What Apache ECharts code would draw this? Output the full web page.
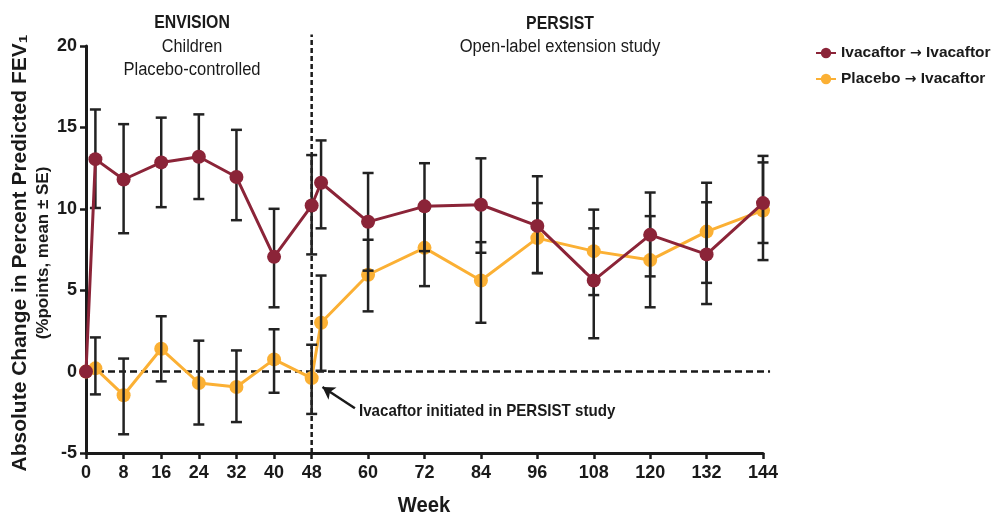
<!DOCTYPE html>
<html>
<head>
<meta charset="utf-8">
<script src="https://cdn.jsdelivr.net/npm/echarts@6/dist/echarts.min.js"></script>
<style>html,body{margin:0;padding:0;background:#fff}#c{width:1002px;height:515px}</style>
</head>
<body>
<div id="c"></div>
<script>
// ---- data ----
const weeks = [0, 2, 8, 16, 24, 32, 40, 48, 50, 60, 72, 84, 96, 108, 120, 132, 144];
const ivaMean  = [0, 13.05, 11.8, 12.85, 13.2, 11.95, 7.05, 10.2, 11.6, 9.2, 10.15, 10.25, 8.95, 5.6, 8.4, 7.2, 10.35];
const ivaHigh  = [null, 16.1, 15.2, 15.6, 15.8, 14.85, 10.0, 13.3, 14.2, 12.2, 12.8, 13.1, 12.0, 8.8, 11.0, 10.4, 13.25];
const ivaLow   = [null, 10.05, 8.5, 10.1, 10.6, 9.3, 3.95, 7.2, 8.8, 6.2, 7.4, 7.3, 6.05, 2.05, 5.85, 4.15, 7.9];
const plaMean  = [0, 0.2, -1.45, 1.4, -0.7, -0.95, 0.75, -0.4, 3.0, 5.95, 7.6, 5.6, 8.2, 7.4, 6.85, 8.6, 9.9];
const plaHigh  = [null, 2.1, 0.8, 3.4, 1.9, 1.3, 2.6, 1.65, 5.9, 8.1, 9.95, 7.95, 10.35, 9.95, 9.55, 11.6, 12.85];
const plaLow   = [null, -1.4, -3.85, -0.6, -3.25, -3.1, -1.3, -2.6, 0.05, 3.7, 5.25, 3.0, 6.05, 4.7, 3.95, 5.45, 6.85];
const xTicks = [0, 8, 16, 24, 32, 40, 48, 60, 72, 84, 96, 108, 120, 132, 144];
const seriesNames = ['Ivacaftor \u2192 Ivacaftor', 'Placebo \u2192 Ivacaftor'];
const initiationWeek = 48;
// reference lines: [x1, y1, x2, y2] in data units
const refLines = [[initiationWeek, -5, initiationWeek, 20.7], [0, 0, 145.5, 0]];

const RED = '#8B2438', ORANGE = '#FBB034', INK = '#1a1a1a';
const SANS = '"Liberation Sans", Arial, sans-serif';

const pts = (m) => weeks.map((w, i) => [w, m[i]]);
const bars = (lo, hi) => weeks.map((w, i) => [w, lo[i], hi[i]]).filter(d => d[1] != null);

function errRender(params, api) {
  const x = api.value(0);
  const lo = api.coord([x, api.value(1)]);
  const hi = api.coord([x, api.value(2)]);
  const h = 5.5;
  const st = { stroke: '#222', lineWidth: 2.5 };
  return {
    type: 'group',
    children: [
      { type: 'line', shape: { x1: lo[0], y1: lo[1], x2: hi[0], y2: hi[1] }, style: st },
      { type: 'line', shape: { x1: lo[0] - h, y1: lo[1], x2: lo[0] + h, y2: lo[1] }, style: st },
      { type: 'line', shape: { x1: hi[0] - h, y1: hi[1], x2: hi[0] + h, y2: hi[1] }, style: st }
    ]
  };
}
function refRender(params, api) {
  const a = api.coord([api.value(0), api.value(1)]);
  const b = api.coord([api.value(2), api.value(3)]);
  const vertical = Math.abs(a[0] - b[0]) < 1;
  return {
    type: 'line',
    shape: { x1: a[0], y1: a[1], x2: b[0], y2: b[1] },
    style: { stroke: INK, lineWidth: 2.5, lineDash: vertical ? [5, 3] : [7, 4] }
  };
}

const chart = echarts.init(document.getElementById('c'));
chart.setOption({
  animation: false,
  backgroundColor: '#fff',
  grid: { left: 86, right: 239, top: 46, bottom: 62, containLabel: false },
  legend: {
    orient: 'vertical', left: 810, top: 40, itemGap: 10, itemWidth: 20, itemHeight: 13,
    data: seriesNames,
    formatter: (name) => name.split(' \u2192 ').map(s => '{b|' + s + '}').join(' {a|\u2192} '),
    textStyle: {
      fontFamily: SANS, fontWeight: 'bold', fontSize: 15.5, color: INK,
      rich: {
        b: { fontFamily: SANS, fontWeight: 'bold', fontSize: 15.5, color: INK },
        a: { fontFamily: '"DejaVu Sans", sans-serif', fontWeight: 'bold', fontSize: 14, color: INK }
      }
    }
  },
  xAxis: {
    type: 'value', min: 0, max: 144,
    splitLine: { show: false },
    axisLine: { onZero: false, lineStyle: { color: INK, width: 3 } },
    axisTick: { customValues: xTicks, length: 6, lineStyle: { color: INK, width: 2.5 } },
    axisLabel: { customValues: xTicks, margin: 11, color: INK, fontFamily: SANS, fontWeight: 'bold', fontSize: 18 }
  },
  yAxis: {
    type: 'value', min: -5, max: 20, interval: 5,
    splitLine: { show: false },
    axisLine: { show: true, lineStyle: { color: INK, width: 3 } },
    axisTick: { show: true, length: 6, lineStyle: { color: INK, width: 2.5 } },
    axisLabel: { margin: 9, color: INK, fontFamily: SANS, fontWeight: 'bold', fontSize: 18 }
  },
  series: [
    {
      name: 'ref', type: 'custom', renderItem: refRender, data: refLines, z: 1, silent: true,
      encode: { x: [0, 2], y: [1, 3] }, clip: false
    },
    {
      name: seriesNames[1], type: 'line', data: pts(plaMean), z: 2,
      symbol: 'circle', symbolSize: 14, color: ORANGE,
      lineStyle: { width: 3, color: ORANGE }, itemStyle: { color: ORANGE },
      markLine: {
        silent: true, label: { show: false },
        data: [
          [{ coord: [57.2, -2.25], symbol: 'none', lineStyle: { color: INK, type: 'solid', width: 2.5 } },
           { coord: [50.3, -0.95], symbol: 'arrow', symbolSize: [11, 12] }]
        ]
      }
    },
    {
      name: 'plaErr', type: 'custom', renderItem: errRender, data: bars(plaLow, plaHigh), z: 3,
      encode: { x: 0, y: [1, 2] }, silent: true
    },
    {
      name: 'ivaErr', type: 'custom', renderItem: errRender, data: bars(ivaLow, ivaHigh), z: 3,
      encode: { x: 0, y: [1, 2] }, silent: true
    },
    {
      name: seriesNames[0], type: 'line', data: pts(ivaMean), z: 4,
      symbol: 'circle', symbolSize: 14, color: RED,
      lineStyle: { width: 3, color: RED }, itemStyle: { color: RED }
    }
  ],
  graphic: [
    { type: 'text', x: 192, y: 23, scaleX: 0.88, style: { text: 'ENVISION', align: 'center', verticalAlign: 'middle', font: 'bold 18px ' + SANS, fill: INK } },
    { type: 'text', x: 192, y: 47, scaleX: 0.9, style: { text: 'Children', align: 'center', verticalAlign: 'middle', font: '18px ' + SANS, fill: INK } },
    { type: 'text', x: 192, y: 70, scaleX: 0.92, style: { text: 'Placebo-controlled', align: 'center', verticalAlign: 'middle', font: '18px ' + SANS, fill: INK } },
    { type: 'text', x: 560, y: 24, scaleX: 0.88, style: { text: 'PERSIST', align: 'center', verticalAlign: 'middle', font: 'bold 18px ' + SANS, fill: INK } },
    { type: 'text', x: 560, y: 47, scaleX: 0.92, style: { text: 'Open-label extension study', align: 'center', verticalAlign: 'middle', font: '18px ' + SANS, fill: INK } },
    { type: 'text', x: 359, y: 411, scaleX: 0.89, style: { text: 'Ivacaftor initiated in PERSIST study', align: 'left', verticalAlign: 'middle', font: 'bold 17px ' + SANS, fill: INK } },
    { type: 'text', x: 424, y: 506, scaleX: 0.92, style: { text: 'Week', align: 'center', verticalAlign: 'middle', font: 'bold 22px ' + SANS, fill: INK } },
    { type: 'text', x: 20, y: 253, rotation: Math.PI / 2, style: { text: 'Absolute Change in Percent Predicted FEV\u2081', align: 'center', verticalAlign: 'middle', font: 'bold 21px ' + SANS, fill: INK } },
    { type: 'text', x: 43, y: 253, rotation: Math.PI / 2, style: { text: '(%points, mean \u00b1 SE)', align: 'center', verticalAlign: 'middle', font: 'bold 17px ' + SANS, fill: INK } }
  ]
});
</script>
</body>
</html>
